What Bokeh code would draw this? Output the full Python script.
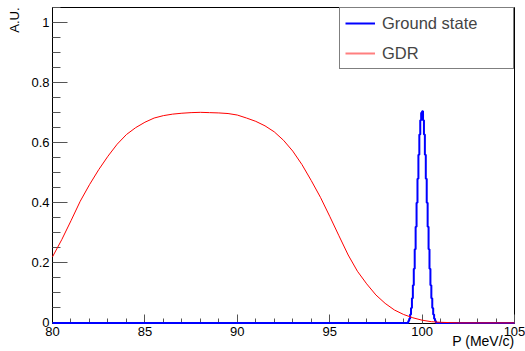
from bokeh.plotting import figure
from bokeh.models import FixedTicker, Legend, LegendItem, Title
from bokeh.embed import file_html
from bokeh.resources import INLINE

# ---- data ----
# GDR momentum distribution (sampled every 0.5 MeV/c)
gdr_p = [80.0, 80.5, 81.0, 81.5, 82.0, 82.5, 83.0, 83.5, 84.0, 84.5,
         85.0, 85.5, 86.0, 86.5, 87.0, 87.5, 88.0, 88.5, 89.0, 89.5,
         90.0, 90.5, 91.0, 91.5, 92.0, 92.5, 93.0, 93.5, 94.0, 94.5,
         95.0, 95.5, 96.0, 96.5, 97.0, 97.5, 98.0, 98.5, 99.0, 99.5,
         100.0, 100.5, 101.0, 101.5, 102.0, 105.0]
gdr_au = [0.220, 0.277, 0.340, 0.405, 0.460, 0.510, 0.555, 0.595, 0.627, 0.650,
          0.668, 0.682, 0.690, 0.695, 0.698, 0.700, 0.701, 0.700, 0.699, 0.697,
          0.692, 0.682, 0.671, 0.656, 0.636, 0.608, 0.572, 0.527, 0.474, 0.418,
          0.355, 0.290, 0.226, 0.172, 0.130, 0.093, 0.065, 0.043, 0.028, 0.017,
          0.009, 0.004, 0.002, 0.001, 0.000, 0.000]

# Ground state histogram (bin left edges, width 0.05 MeV/c)
gs_edges = [80.0,
            99.25, 99.30, 99.35, 99.40, 99.45, 99.50, 99.55, 99.60, 99.65, 99.70,
            99.75, 99.80, 99.85, 99.90, 99.95, 100.00, 100.05, 100.10, 100.15, 100.20,
            100.25, 100.30, 100.35, 100.40, 100.45, 100.50, 100.55, 100.60, 100.65, 100.70,
            100.75, 105.0]
gs_au = [0.0,
         0.006, 0.014, 0.028, 0.050, 0.082, 0.125, 0.180, 0.245, 0.320, 0.400,
         0.480, 0.560, 0.627, 0.675, 0.700, 0.705, 0.675, 0.627, 0.560, 0.480,
         0.400, 0.320, 0.245, 0.180, 0.125, 0.082, 0.050, 0.028, 0.014, 0.006,
         0.0, 0.0]

x_major = [80, 85, 90, 95, 100, 105]
x_minor = [81, 82, 83, 84, 86, 87, 88, 89, 91, 92, 93, 94, 96, 97, 98, 99,
           101, 102, 103, 104]
y_major = [0, 0.2, 0.4, 0.6, 0.8, 1.0]
y_labels = ["0", "0.2", "0.4", "0.6", "0.8", "1"]
y_minor = [0.05, 0.1, 0.15, 0.25, 0.3, 0.35, 0.45, 0.5, 0.55, 0.65, 0.7, 0.75,
           0.85, 0.9, 0.95, 1.05]

FONT = "Liberation Sans"

p = figure(width=525, height=351, x_range=(80, 105), y_range=(-0.002, 1.05),
           output_backend="svg", toolbar_location=None,
           min_border_left=52, min_border_right=11, min_border_top=7,
           min_border_bottom=28)
p.background_fill_color = "white"
p.border_fill_color = "white"
p.outline_line_color = "black"
p.outline_line_width = 1
p.xgrid.visible = False
p.ygrid.visible = False

# axes
p.xaxis.ticker = FixedTicker(ticks=x_major, minor_ticks=x_minor)
p.yaxis.ticker = FixedTicker(ticks=y_major, minor_ticks=y_minor)
p.yaxis.major_label_overrides = {v: s for v, s in zip(y_major, y_labels)}
for ax in (p.xaxis, p.yaxis):
    ax.axis_line_color = "black"
    ax.major_tick_out = 0
    ax.minor_tick_out = 0
    ax.major_tick_line_color = "#555555"
    ax.minor_tick_line_color = "#555555"
    ax.major_label_text_font = FONT
    ax.major_label_text_font_size = "13px"
    ax.major_label_text_color = "black"
    ax.major_label_standoff = 3
p.xaxis.axis_line_color = None
p.xaxis.major_tick_in = 9
p.xaxis.minor_tick_in = 5
p.yaxis.major_tick_in = 15
p.yaxis.minor_tick_in = 8

# axis titles, right-aligned to the axis ends as in the original
p.add_layout(Title(text="P (MeV/c)", align="right", vertical_align="middle",
                   text_font=FONT, text_font_size="14px",
                   text_font_style="normal", text_color="black",
                   standoff=-13), "below")
p.add_layout(Title(text="A.U.", align="right", vertical_align="top",
                   text_font=FONT, text_font_size="13px",
                   text_font_style="normal", text_color="black",
                   standoff=9), "left")

# histograms (drawn above the axes so the blue baseline is visible)
gs = p.step(gs_edges, gs_au, mode="after", line_color="#0000ff", line_width=2,
            level="overlay")
gdr = p.line(gdr_p, gdr_au, line_color="#ff0000", line_width=1, level="overlay")
# legend key for GDR (kept outside the visible x range)
gdr_key = p.line([60, 61], [0.5, 0.5], line_color="#ff0000", line_alpha=0.5,
                 line_width=2)

legend = Legend(items=[LegendItem(label="Ground state", renderers=[gs]),
                       LegendItem(label="GDR", renderers=[gdr_key])],
                location="top_right", margin=0, padding=5, spacing=10,
                label_height=20, glyph_height=20, glyph_width=30,
                label_standoff=7, label_width=126,
                label_text_font=FONT, label_text_font_size="16.5px",
                border_line_color="black", border_line_width=1,
                background_fill_color="white", background_fill_alpha=1.0)
p.add_layout(legend)

open("out.html", "w").write(file_html(p, INLINE))
